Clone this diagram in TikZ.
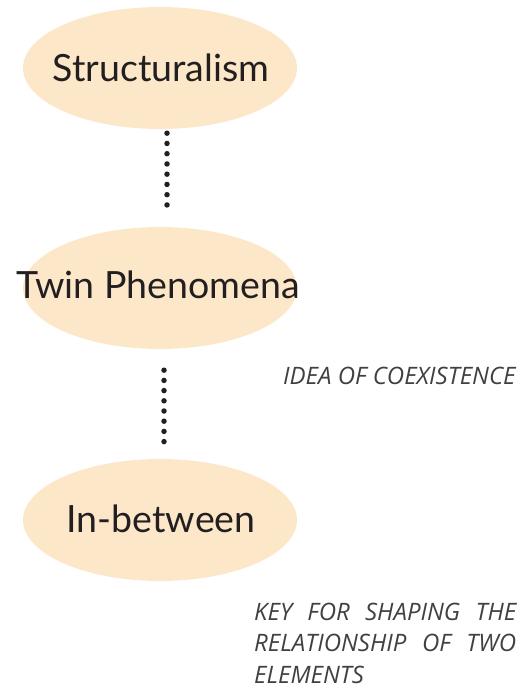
\documentclass[tikz,border=0pt]{standalone}
\usepackage{fontspec}
\setmainfont{Lato}
\newfontfamily\notefont{Open Sans}
\usetikzlibrary{positioning, shapes.geometric}

\definecolor{peach}{RGB}{252,232,201}
\definecolor{notegray}{RGB}{64,64,64}
\definecolor{dotblack}{RGB}{35,31,32}

\begin{document}
\begin{tikzpicture}[x=1pt, y=-1pt,
    idea/.style={ellipse, fill=peach, minimum width=274pt, minimum height=122pt, inner sep=0pt},
    ideatext/.style={font=\fontsize{37.5}{42}\selectfont, text=dotblack},
    dotline/.style={line width=5.5pt, line cap=round, dotblack},
    note/.style={font=\notefont\itshape\fontsize{24}{31.5}\selectfont, text=notegray, inner sep=0pt}]
    \useasboundingbox (0,0) rectangle (526,691);
    % Ellipses
    \node[idea] (struct) at (160,68) {};
    \node[idea] (twin) at (160,288) {};
    \node[idea] (inbetween) at (160,520) {};
    \node[ideatext, anchor=base] (structtxt) at (161,81) {Structuralism};
    \node[ideatext, anchor=base] (twintxt) at (158,298) {Twin Phenomena};
    \node[ideatext, anchor=base] (inbetweentxt) at (161,532) {In-between};
    % Dotted links
    \draw[dotline, dash pattern=on 0pt off 10.25pt, shorten <=4pt, shorten >=21pt] ([xshift=7pt]struct.south) -- ([xshift=7pt]twin.north);
    \draw[dotline, dash pattern=on 0pt off 10.2pt, shorten <=21pt, shorten >=17pt] ([xshift=4pt]twin.south) -- ([xshift=4pt]inbetween.north);
    % Notes
    \node[note, anchor=base west] (coexist) at (283,384) {IDEA OF COEXISTENCE};
    \node[note, anchor=base west, align=left] (key) at (254,683)
        {\makebox[262pt][s]{KEY FOR SHAPING THE}\\
         \makebox[262pt][s]{RELATIONSHIP OF TWO}\\
         ELEMENTS};
\end{tikzpicture}
\end{document}
